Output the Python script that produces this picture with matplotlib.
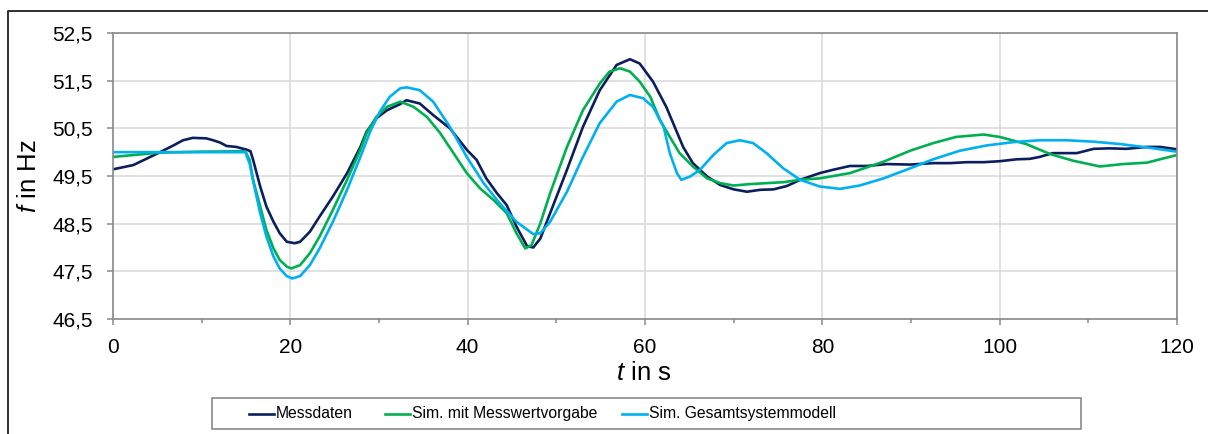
import matplotlib
matplotlib.use("Agg")
import matplotlib.pyplot as plt
from matplotlib.lines import Line2D
from matplotlib.patches import Rectangle
from matplotlib.ticker import FuncFormatter, MultipleLocator

plt.rcParams["font.family"] = ["Liberation Sans", "DejaVu Sans"]
plt.rcParams["mathtext.fontset"] = "custom"
plt.rcParams["mathtext.it"] = "Liberation Sans:italic"
plt.rcParams["mathtext.rm"] = "Liberation Sans"

# Measured frequency
t_mess = [0, 2.3, 4.2, 5.3, 6.8, 7.9, 9.0, 10.5, 11.3, 12.1, 12.8, 13.9, 15.1, 15.5,
          15.8, 16.6, 17.3, 18.1, 18.8, 19.6, 20.5, 21.1, 22.2, 23.3, 24.8, 26.4,
          27.9, 28.6, 29.7, 30.9, 32.4, 33.1, 34.6, 36.1, 38.0, 39.9, 41.0, 42.1,
          43.3, 44.4, 45.5, 46.7, 47.4, 48.2, 49.3, 51.2, 53.0, 54.9, 56.8, 58.3,
          59.4, 60.9, 62.4, 64.3, 65.4, 67.0, 68.5, 70.0, 71.5, 73.0, 74.5, 76.0,
          77.5, 79.7, 81.2, 83.1, 85.0, 87.3, 89.9, 92.5, 94.4, 96.3, 98.2, 100.0,
          101.9, 103.4, 104.5, 106.0, 107.5, 108.7, 110.6, 112.4, 114.3, 116.6,
          118.1, 120.0]
f_mess = [49.64, 49.73, 49.90, 50.00, 50.14, 50.25, 50.30, 50.29, 50.25, 50.20,
          50.13, 50.11, 50.05, 50.02, 49.84, 49.28, 48.86, 48.54, 48.30, 48.12,
          48.09, 48.12, 48.33, 48.65, 49.07, 49.56, 50.11, 50.43, 50.71, 50.88,
          51.01, 51.09, 51.02, 50.78, 50.50, 50.05, 49.84, 49.45, 49.14, 48.89,
          48.44, 48.03, 48.00, 48.19, 48.72, 49.63, 50.53, 51.30, 51.83, 51.95,
          51.86, 51.48, 50.95, 50.11, 49.77, 49.49, 49.31, 49.22, 49.17, 49.21,
          49.22, 49.29, 49.42, 49.56, 49.63, 49.71, 49.71, 49.75, 49.74, 49.77,
          49.77, 49.79, 49.79, 49.81, 49.85, 49.86, 49.90, 49.98, 49.98, 49.98,
          50.07, 50.08, 50.07, 50.11, 50.11, 50.06]

# Simulation driven by measured inputs
t_sim1 = [0, 2.3, 5.3, 9.8, 14.9, 15.4, 15.8, 16.6, 17.3, 18.1, 18.8, 19.6, 20.1,
          21.1, 22.2, 23.3, 24.8, 26.4, 27.9, 28.6, 29.7, 30.9, 32.4, 33.9, 35.4,
          36.9, 38.4, 39.9, 41.4, 42.9, 44.4, 45.5, 46.5, 47.2, 48.2, 49.3, 51.2,
          53.0, 54.9, 56.0, 57.2, 58.3, 59.4, 60.6, 61.7, 62.8, 63.9, 65.4, 67.0,
          68.5, 70.0, 71.8, 73.7, 75.6, 77.5, 79.7, 83.1, 86.9, 89.9, 92.5, 95.1,
          98.2, 100.0, 103.0, 105.7, 108.3, 111.3, 113.9, 116.6, 118.5, 120.0]
f_sim1 = [49.90, 49.94, 49.99, 50.01, 50.02, 49.84, 49.42, 48.86, 48.37, 47.98,
          47.74, 47.60, 47.56, 47.63, 47.88, 48.23, 48.79, 49.42, 50.05, 50.40,
          50.74, 50.95, 51.06, 50.95, 50.74, 50.40, 49.98, 49.56, 49.24, 49.00,
          48.72, 48.30, 47.98, 48.05, 48.51, 49.14, 50.11, 50.88, 51.44, 51.69,
          51.76, 51.69, 51.48, 51.16, 50.67, 50.32, 49.98, 49.70, 49.45, 49.35,
          49.30, 49.33, 49.35, 49.37, 49.42, 49.45, 49.56, 49.80, 50.03, 50.19,
          50.32, 50.37, 50.32, 50.17, 49.96, 49.82, 49.70, 49.75, 49.78, 49.87,
          49.94]

# Full system model simulation
t_sim2 = [0, 5.0, 10.0, 15.0, 15.1, 15.4, 15.8, 16.6, 17.3, 18.1, 18.8, 19.6, 20.2,
          21.1, 22.2, 23.3, 24.8, 26.4, 27.9, 29.0, 30.1, 31.2, 32.4, 33.1, 34.6,
          36.1, 38.0, 39.9, 41.8, 43.6, 45.5, 47.4, 48.2, 49.3, 51.2, 53.0, 54.9,
          56.8, 58.3, 59.8, 60.9, 62.1, 62.8, 63.6, 64.1, 65.1, 66.2, 67.7, 69.2,
          70.7, 72.2, 73.7, 75.6, 77.5, 79.7, 82.0, 84.2, 86.9, 89.9, 92.5, 95.5,
          98.5, 101.5, 104.5, 107.5, 110.6, 113.6, 116.6, 120.0]
f_sim2 = [50.00, 50.00, 50.00, 50.00, 49.90, 49.77, 49.40, 48.72, 48.23, 47.81,
          47.56, 47.40, 47.35, 47.40, 47.63, 47.98, 48.54, 49.21, 49.90, 50.43,
          50.85, 51.16, 51.34, 51.36, 51.30, 51.06, 50.53, 49.90, 49.35, 48.93,
          48.54, 48.28, 48.30, 48.54, 49.17, 49.90, 50.61, 51.06, 51.20, 51.13,
          50.95, 50.53, 49.98, 49.56, 49.42, 49.49, 49.63, 49.94, 50.19, 50.25,
          50.19, 49.98, 49.66, 49.42, 49.28, 49.23, 49.30, 49.45, 49.66, 49.85,
          50.03, 50.14, 50.21, 50.25, 50.25, 50.22, 50.17, 50.10, 50.01]

series_labels = ["Messdaten", "Sim. mit Messwertvorgabe", "Sim. Gesamtsystemmodell"]
series_colors = ["#0b1f5e", "#00b050", "#00b0f0"]

x_ticks = [0, 20, 40, 60, 80, 100, 120]
y_ticks = [46.5, 47.5, 48.5, 49.5, 50.5, 51.5, 52.5]

W, H = 1208, 434
fig = plt.figure(figsize=(W / 100, H / 100), dpi=100)
ax = fig.add_axes([113 / W, 1 - 319 / H, (1177 - 113) / W, (319 - 33) / H])

for t, f, lab, col in zip([t_mess, t_sim1, t_sim2], [f_mess, f_sim1, f_sim2],
                          series_labels, series_colors):
    ax.plot(t, f, color=col, lw=1.9, label=lab, solid_joinstyle="round")

ax.set_xlim(0, 120)
ax.set_ylim(46.5, 52.5)
ax.set_xticks(x_ticks)
ax.set_yticks(y_ticks)
ax.xaxis.set_minor_locator(MultipleLocator(10))
ax.yaxis.set_major_formatter(FuncFormatter(lambda v, p: f"{v:.1f}".replace(".", ",")))
ax.xaxis.set_major_formatter(FuncFormatter(lambda v, p: f"{v:.0f}"))

ax.grid(True, which="major", color="#d9d9d9", lw=1.1)
ax.set_axisbelow(True)
for s in ax.spines.values():
    s.set_color("#8a8a8a")
    s.set_linewidth(1.2)

ax.tick_params(axis="both", which="major", direction="out", length=4.5, width=1.1,
               color="#8a8a8a", labelsize=15, labelcolor="black")
ax.tick_params(axis="y", pad=10)
ax.tick_params(axis="x", pad=9)
ax.tick_params(axis="x", which="minor", direction="out", length=3, width=1.1,
               color="#8a8a8a")

fig.text(644 / W, 1 - 373 / H, r"$t$ in s", ha="center", va="center", fontsize=18.5)
fig.text(29 / W, 1 - 176 / H, r"$f$ in Hz", ha="center", va="center", fontsize=18.5,
         rotation=90)

# Legend box with three entries in one row
fig.patches.append(Rectangle((212 / W, 1 - 429 / H), (1081 - 212) / W, (429 - 398) / H,
                             transform=fig.transFigure, facecolor="white",
                             edgecolor="#8a8a8a", lw=1.2))
leg_y = 1 - 413.5 / H
handle_x = [249, 385, 622]
for hx, lab, col in zip(handle_x, series_labels, series_colors):
    fig.lines.append(Line2D([hx / W, (hx + 25) / W], [leg_y, leg_y], color=col, lw=1.9,
                            transform=fig.transFigure))
    fig.text((hx + 27) / W, leg_y, lab, ha="left", va="center", fontsize=11.3)

# Outer chart border (left and top edges visible)
fig.lines.append(Line2D([8 / W, 8 / W, 1.0], [0.0, 1 - 11 / H, 1 - 11 / H],
                        color="#303030", lw=1.4, transform=fig.transFigure))

fig.savefig("out.png", dpi=100)
